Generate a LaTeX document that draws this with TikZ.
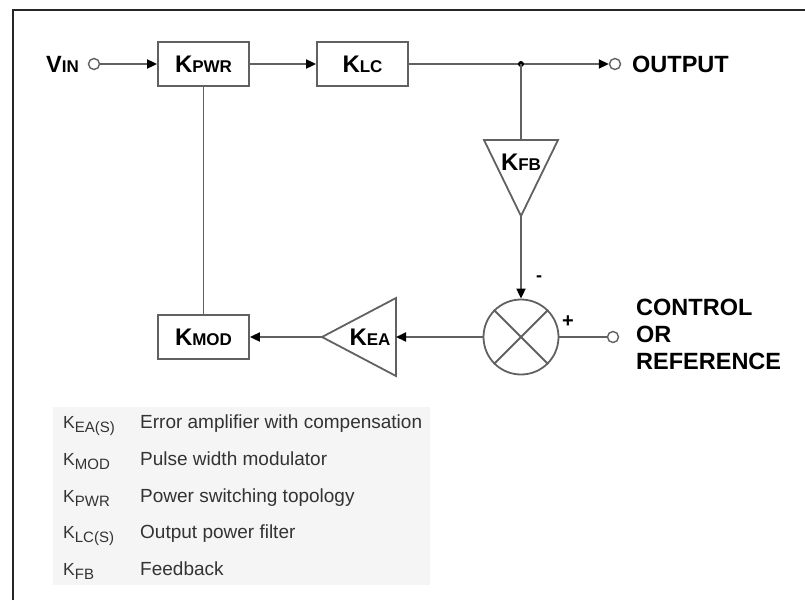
\documentclass[tikz,border=0pt]{standalone}
\usepackage{fontspec}
\setmainfont{Liberation Sans}
\usetikzlibrary{arrows.meta}
\newcommand{\bk}[1]{{\fontsize{24}{24}\selectfont\bfseries K\fontsize{17}{17}\selectfont #1}}
\newcommand{\lk}[1]{{\fontsize{17.5}{17.5}\selectfont K\raisebox{-4pt}{\fontsize{15}{15}\selectfont #1}}}
\begin{document}
\begin{tikzpicture}[x=1pt,y=-1pt,
  wire/.style={draw=black!62, line width=1.8pt},
  arr/.style={wire, -{Triangle[length=10pt,width=9pt,color=black]}},
  blk/.style={draw=black!62, line width=1.8pt, minimum width=91pt, minimum height=44pt, inner sep=0pt},
  port/.style={circle, draw=black!62, line width=1.4pt, fill=white, minimum size=11pt, inner sep=0pt},
  lbl/.style={font=\fontsize{23.5}{27}\selectfont\bfseries, inner sep=0pt},
  leg/.style={anchor=base west, inner sep=0pt, text=black!80},
  legd/.style={leg, font=\fontsize{19}{19}\selectfont}
]
\useasboundingbox (0,0) rectangle (805,600);
% frame
\draw[line width=2.5pt, black!85, line join=miter] (13,600) -- (13,10) -- (805,10);
% legend background
\fill[black!4] (53,407) rectangle (430,585);

% top row
\node[lbl, anchor=east] (vin) at (79,64) {V\fontsize{17}{17}\selectfont IN};
\node[port] (vinc) at (94,64) {};
\node[blk] (kpwr) at (203.5,64) {\bk{PWR}};
\node[blk] (klc) at (362.5,64) {\bk{LC}};
\coordinate (j) at (521,64);
\node[port] (outc) at (615,64) {};
\node[lbl, anchor=west] (out) at (632,64) {OUTPUT};

% feedback triangle
\coordinate (kfbtop) at (521,140);
\coordinate (kfbtip) at (521,216);
\draw[wire, line join=miter] (484,140) -- (558,140) -- (kfbtip) -- cycle;
\node[inner sep=0pt] (kfb) at (521,162) {\bk{FB}};

% summing junction
\node[circle, draw=black!62, line width=1.8pt, minimum size=75pt, inner sep=0pt] (sum) at (521,337) {};
\draw[wire] (sum.45) -- (sum.225);
\draw[wire] (sum.135) -- (sum.315);
\node[font=\fontsize{18}{18}\selectfont\bfseries, inner sep=0pt] (minus) at (539,279) {-};
\node[font=\fontsize{20}{20}\selectfont\bfseries, inner sep=0pt] (plus) at (568,322) {+};
\node[port] (refc) at (613,337) {};
\node[lbl, anchor=west, align=left] (ref) at (636,334) {CONTROL\\OR\\REFERENCE};

% error amplifier
\coordinate (keaR) at (396,337);
\coordinate (keaL) at (322,337);
\draw[wire, line join=miter] (396,298) -- (396,376) -- (keaL) -- cycle;
\node[inner sep=0pt] (kea) at (370,337) {\bk{EA}};

% modulator
\node[blk] (kmod) at (203.5,337) {\bk{MOD}};

% connectors
\draw[arr] (vinc.east) -- (kpwr.west);
\draw[arr] (kpwr.east) -- (klc.west);
\draw[wire] (klc.east) -- (j);
\draw[arr] (j) -- (outc.west);
\fill[black] (j) circle (3pt);
\draw[wire] (j) -- (kfbtop);
\draw[arr] (kfbtip) -- (sum.north);
\draw[wire] (refc.west) -- (sum.east);
\draw[arr] (sum.west) -- (keaR);
\draw[arr] (keaL) -- (kmod.east);
\draw[wire] (kmod.north) -- (kpwr.south);

% legend
\node[leg] (l1) at (63,428) {\lk{EA(S)}};
\node[legd] (d1) at (140,428) {Error amplifier with compensation};
\node[leg] (l2) at (63,465) {\lk{MOD}};
\node[legd] (d2) at (140,465) {Pulse width modulator};
\node[leg] (l3) at (63,502) {\lk{PWR}};
\node[legd] (d3) at (140,502) {Power switching topology};
\node[leg] (l4) at (63,538) {\lk{LC(S)}};
\node[legd] (d4) at (140,538) {Output power filter};
\node[leg] (l5) at (63,575) {\lk{FB}};
\node[legd] (d5) at (140,575) {Feedback};
\end{tikzpicture}
\end{document}
